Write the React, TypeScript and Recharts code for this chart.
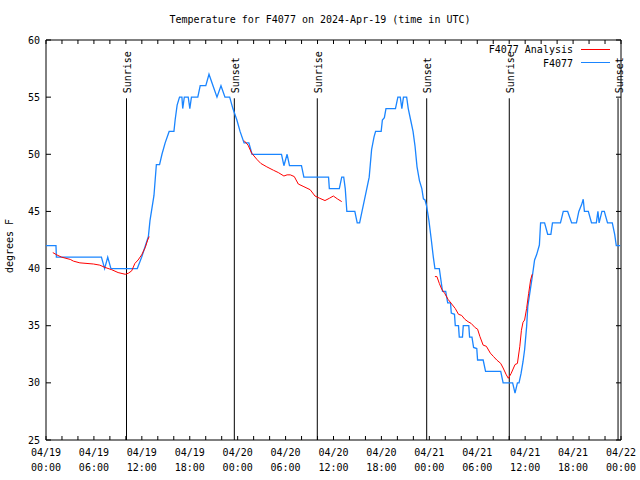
import React from 'react';
import { LineChart, Line, XAxis, YAxis, ReferenceLine, ReferenceArea } from 'recharts';

// hours since 04/19 00:00 UTC
const obsHours = [
  0, 1.25, 1.3, 6.94, 7.34, 7.73, 8.13, 11.43, 11.98, 12.82, 13.02, 13.52, 13.82, 14.22, 14.52, 14.92,
  15.42, 16.02, 16.17, 16.42, 16.72, 17.02, 17.12, 17.32, 17.81, 18.01, 18.21, 19.01, 19.31, 20.01, 20.41,
  20.91, 21.41, 21.91, 22.41, 23.0, 23.4, 23.9, 24.3, 24.8, 25.4, 25.8, 29.49, 29.79, 30.19, 30.49, 31.99,
  32.29, 35.38, 35.48, 36.73, 37.03, 37.28, 37.47, 37.67, 38.67, 38.97, 39.27, 39.57, 40.17, 40.47, 40.77,
  41.07, 41.27, 41.97, 42.12, 42.37, 42.57, 43.76, 44.06, 44.36, 44.56, 44.76, 45.16, 45.36, 45.66, 45.96,
  46.21, 46.46, 46.76, 47.06, 47.26, 47.46, 47.65, 47.95, 48.25, 48.5, 48.7, 49.25, 49.45, 49.65, 50.05,
  50.3, 50.65, 50.75, 51.15, 51.25, 51.65, 51.75, 52.15, 52.25, 52.94, 53.04, 53.34, 53.54, 53.94, 54.04,
  54.74, 55.04, 56.94, 57.24, 58.43, 58.73, 59.03, 59.23, 59.48, 59.73, 59.93, 60.18, 60.33, 60.63, 60.83,
  61.03, 61.18, 61.43, 61.78, 61.93, 62.43, 62.82, 63.22, 63.42, 64.42, 64.77, 65.32, 65.82, 66.42, 66.72,
  67.07, 67.27, 67.42, 67.91, 68.31, 68.91, 69.11, 69.26, 69.61, 69.91, 70.31, 70.91, 71.21, 71.41, 71.9,
];
const obsTemps = [
  42, 42, 41, 41, 40, 41, 40, 40, 41, 42.8, 44.2, 46.4, 49.1, 49.1, 50, 51,
  52, 52, 53, 54.3, 55, 55, 54, 55, 55, 54, 55, 55, 56, 56, 57,
  56, 55, 56, 55, 55, 54, 53, 52, 51, 51, 50, 50, 49, 50, 49, 49,
  48, 48, 47, 47, 48, 48, 47, 45, 45, 44, 44, 45, 47, 48, 50.4,
  51.5, 52, 52, 53, 53.2, 54, 54, 55, 55, 54, 55, 55, 54, 53, 52,
  50.7, 48.9, 47.7, 47, 46.1, 46, 45.5, 44.2, 42.5, 41, 40, 40, 39, 38, 38,
  37, 37, 36.1, 36, 35, 35, 34, 34, 35, 35, 34, 34, 33.1, 33, 32,
  32, 31, 31, 30, 30, 29.1, 30, 30, 30.8, 31.85, 32.9, 34.9, 36.7, 38.1, 39,
  40, 40.75, 41.2, 42.06, 44, 44, 43, 43, 44, 44, 45, 45, 44, 44, 45,
  45.6, 46.06, 45, 45, 44, 44, 45, 44, 45, 45, 44, 44, 43, 42, 42,
];

const anaHours = [
  0.85, 1.35, 1.95, 3.04, 3.44, 4.24, 5.94, 6.74, 7.39, 8.23, 9.03, 9.93, 10.33, 10.73, 11.13, 11.53,
  11.98, 12.43, 12.73, 12.92,
  18,
  24.8, 25.3, 25.75, 26.4, 26.9, 27.65, 28.49, 29.09, 29.79, 30.19, 30.59, 31.09, 31.59, 32.19, 33.08,
  33.68, 34.28, 34.93, 35.48, 35.98, 36.48, 37.03,
  42,
  48.7, 48.95, 49.25, 49.55, 49.95, 50.35, 50.8, 51.25, 51.65, 52.05, 52.45, 52.85, 53.24, 53.74, 54.04,
  54.34, 54.74, 55.14, 55.64, 56.04, 56.44, 56.94, 57.24, 57.64, 57.89, 58.23, 58.73, 59.03, 59.33, 59.53,
  59.73, 59.93, 60.18, 60.43, 60.68, 60.88,
];
const anaTemps = [
  41.4, 41.2, 41.0, 40.8, 40.65, 40.5, 40.4, 40.3, 40.1, 39.9, 39.65, 39.5, 39.6, 39.8, 40.45, 40.75,
  41.2, 41.85, 42.5, 42.8,
  null,
  51.2, 50.8, 50.1, 49.56, 49.2, 48.9, 48.6, 48.4, 48.1, 48.2, 48.2, 48.05, 47.4, 47.2, 46.9,
  46.35, 46.15, 45.95, 46.15, 46.35, 46.1, 45.86,
  null,
  39.3, 39.3, 38.7, 38.2, 37.8, 37.3, 36.9, 36.5, 36.0, 35.9, 35.56, 35.35, 35.2, 34.83, 34.7,
  34.04, 33.3, 33.2, 32.6, 32.3, 32.0, 31.7, 31.3, 30.7, 30.4, 30.8, 31.6, 31.7, 33.2, 34.6,
  35.3, 35.5, 36.5, 37.8, 39.0, 39.5,
];

const sunHours = [10.08, 23.58, 33.97, 47.67, 58.01, 71.63];
const sunLabels = ['Sunrise', 'Sunset', 'Sunrise', 'Sunset', 'Sunrise', 'Sunset'];

const tickHours = [
  0, 2, 4, 6, 8, 10, 12, 14, 16, 18, 20, 22, 24, 26, 28, 30, 32, 34, 36,
  38, 40, 42, 44, 46, 48, 50, 52, 54, 56, 58, 60, 62, 64, 66, 68, 70, 72,
];
const labelHours = [0, 6, 12, 18, 24, 30, 36, 42, 48, 54, 60, 66, 72];
const labelDates = ['04/19', '04/19', '04/19', '04/19', '04/20', '04/20', '04/20', '04/20', '04/21', '04/21', '04/21', '04/21', '04/22'];
const labelTimes = ['00:00', '06:00', '12:00', '18:00', '00:00', '06:00', '12:00', '18:00', '00:00', '06:00', '12:00', '18:00', '00:00'];
const tempTicks = [25, 30, 35, 40, 45, 50, 55, 60];

const obsData = obsHours.map((h, i) => ({ h, v: obsTemps[i] }));
const anaData = anaHours.map((h, i) => ({ h, v: anaTemps[i] }));

const FONT = '"DejaVu Sans Mono", "Liberation Mono", monospace';
const TOP = 40;
const BOTTOM = 440;
const LEFT = 46;
const RIGHT = 621;
const BLUE = '#1a85ff';
const RED = '#ff0000';

const XTick = (props: any) => {
  const { x, payload } = props;
  const idx = labelHours.indexOf(payload.value);
  return (
    <g>
      <line x1={x} x2={x} y1={BOTTOM} y2={BOTTOM - 4} stroke="#000" />
      <line x1={x} x2={x} y1={TOP} y2={TOP + 4} stroke="#000" />
      {idx >= 0 && (
        <text x={x} textAnchor="middle" fontSize={10} fill="#000" style={{ fontFamily: FONT }}>
          <tspan x={x} y={BOTTOM + 16}>{labelDates[idx]}</tspan>
          <tspan x={x} y={BOTTOM + 31}>{labelTimes[idx]}</tspan>
        </text>
      )}
    </g>
  );
};

const YTick = (props: any) => {
  const { y, payload } = props;
  return (
    <g>
      <line x1={LEFT} x2={LEFT + 5} y1={y} y2={y} stroke="#000" />
      <line x1={RIGHT} x2={RIGHT - 5} y1={y} y2={y} stroke="#000" />
      <text x={LEFT - 6} y={y + 3.5} textAnchor="end" fontSize={10} fill="#000" style={{ fontFamily: FONT }}>
        {payload.value}
      </text>
    </g>
  );
};

const SunLabel = (props: any) => {
  const { viewBox, text } = props;
  if (!viewBox) return null;
  const x = viewBox.x + 1;
  const top = Math.min(viewBox.y, viewBox.y + (viewBox.height || 0)) - 5;
  return (
    <text
      x={x}
      y={top}
      transform={`rotate(-90, ${x}, ${top})`}
      textAnchor="start"
      dominantBaseline="central"
      fontSize={10}
      fill="#000"
      style={{ fontFamily: FONT }}
    >
      {text}
    </text>
  );
};

export default function App() {
  return (
    <div style={{ position: 'absolute', left: 0, top: 0, width: 640, height: 480, background: '#fff', fontFamily: FONT }}>
      <LineChart width={640} height={480} margin={{ top: 40, right: 19, bottom: 0, left: 0 }}>
        <XAxis
          dataKey="h"
          type="number"
          domain={[0, 72]}
          ticks={tickHours}
          interval={0}
          height={40}
          tick={<XTick />}
          tickLine={false}
          axisLine={false}
          tickSize={0}
          allowDataOverflow
        />
        <YAxis
          type="number"
          domain={[25, 60]}
          ticks={tempTicks}
          interval={0}
          width={46}
          tick={<YTick />}
          tickLine={false}
          axisLine={false}
          tickSize={0}
          allowDataOverflow
        />
        <ReferenceArea x1={0} x2={72} y1={25} y2={60} fill="none" stroke="#000" strokeWidth={1} fillOpacity={0} />
        {sunHours.map((h, i) => (
          <ReferenceLine
            key={i}
            segment={[{ x: h, y: 25 }, { x: h, y: 54.9 }]}
            stroke="#000"
            strokeWidth={1}
            label={<SunLabel text={sunLabels[i]} />}
          />
        ))}
        <Line
          data={obsData}
          dataKey="v"
          type="linear"
          stroke={BLUE}
          strokeWidth={1.3}
          dot={false}
          activeDot={false}
          isAnimationActive={false}
        />
        <Line
          data={anaData}
          dataKey="v"
          type="linear"
          stroke={RED}
          strokeWidth={1}
          dot={false}
          activeDot={false}
          connectNulls={false}
          isAnimationActive={false}
        />
      </LineChart>

      <div style={{ position: 'absolute', left: 0, top: 13, width: 640, textAlign: 'center', fontSize: 10, lineHeight: '14px', color: '#000' }}>
        Temperature for F4077 on 2024-Apr-19 (time in UTC)
      </div>

      <div
        style={{
          position: 'absolute',
          left: 10,
          top: 246,
          transform: 'translate(-50%, -50%) rotate(-90deg)',
          whiteSpace: 'nowrap',
          fontSize: 10,
          lineHeight: '12px',
          color: '#000',
        }}
      >
        degrees F
      </div>

      <div style={{ position: 'absolute', right: 67, top: 43, textAlign: 'right', fontSize: 10, lineHeight: '13.5px', color: '#000', whiteSpace: 'nowrap' }}>
        <div>F4077 Analysis</div>
        <div>F4077</div>
      </div>
      <div style={{ position: 'absolute', left: 581, top: 49, width: 29, height: 1, background: RED }} />
      <div style={{ position: 'absolute', left: 581, top: 62, width: 29, height: 1, background: BLUE }} />
    </div>
  );
}
